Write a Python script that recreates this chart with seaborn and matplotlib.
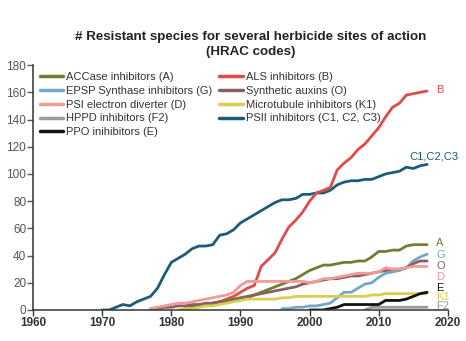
import matplotlib
matplotlib.use("Agg")
import matplotlib.pyplot as plt
import seaborn as sns
import pandas as pd
from matplotlib.lines import Line2D

# ---------------- data ----------------
years_A = list(range(1982, 2018))
accase_A = [1, 2, 3, 4, 5, 6, 7, 8, 9, 10, 11, 13, 15, 17, 19, 21, 23, 26, 29, 31,
            33, 33, 34, 35, 35, 36, 36, 39, 43, 43, 44, 44, 47, 48, 48, 48]

years_B = list(range(1982, 2018))
als_B = [1, 2, 3, 4, 5, 6, 8, 10, 13, 16, 18, 32, 37, 42, 52, 61, 66, 72, 80, 86,
         88, 90, 103, 108, 112, 118, 122, 128, 134, 142, 149, 152, 158, 159, 160, 161]

years_G = list(range(1996, 2018))
epsp_G = [1, 1, 2, 2, 3, 3, 4, 5, 9, 13, 13, 16, 19, 20, 24, 27, 28, 29, 31, 36, 39, 41]

years_O = list(range(1977, 2018))
auxin_O = [1, 1, 2, 2, 3, 3, 4, 4, 5, 5, 6, 6, 7, 8, 9, 11, 12, 13, 14, 15, 16,
           17, 19, 20, 21, 22, 23, 23, 24, 25, 25, 26, 27, 28, 29, 30, 30, 31, 34, 36, 36]

years_D = list(range(1977, 2018))
psi_D = [1, 2, 3, 4, 5, 5, 6, 7, 8, 9, 10, 11, 13, 18, 21, 21, 21, 21, 21, 21, 21,
         21, 21, 20, 21, 23, 23, 24, 25, 26, 27, 27, 27, 28, 31, 30, 30, 31, 32, 32, 32]

years_K1 = list(range(1981, 2018))
micro_K1 = [0, 1, 1, 2, 3, 3, 4, 5, 6, 7, 8, 8, 8, 8, 8, 9, 9, 10, 10, 10, 10,
            10, 10, 10, 10, 10, 10, 10, 11, 11, 12, 12, 12, 12, 12, 12, 12]

years_F2 = list(range(2008, 2018))
hppd_F2 = [0, 2, 2, 2, 2, 2, 2, 2, 2, 2]

years_C = list(range(1970, 2018))
psii_C = [0, 0, 2, 4, 3, 6, 8, 10, 16, 26, 35, 38, 41, 45, 47, 47, 48, 55, 56, 59,
          64, 67, 70, 73, 76, 79, 81, 81, 82, 85, 85, 86, 86, 88, 92, 94, 95, 95,
          96, 96, 98, 100, 101, 102, 105, 104, 106, 107]

years_E = list(range(2000, 2018))
ppo_E = [0, 0, 0, 1, 2, 4, 4, 4, 4, 4, 4, 7, 7, 7, 8, 10, 12, 13]

series_names = ["ACCase inhibitors (A)", "EPSP Synthase inhibitors (G)",
                "PSI electron diverter (D)", "HPPD inhibitors (F2)",
                "PPO inihibitors (E)", "ALS inhibitors (B)",
                "Synthetic auxins (O)", "Microtubule inhibitors (K1)",
                "PSII inhibitors (C1, C2, C3)"]
end_labels = ["A", "G", "D", "F2", "E", "B", "O", "K1", "C1,C2,C3"]

series = [(years_A, accase_A), (years_G, epsp_G), (years_D, psi_D),
          (years_F2, hppd_F2), (years_E, ppo_E), (years_B, als_B),
          (years_O, auxin_O), (years_K1, micro_K1), (years_C, psii_C)]

# ---------------- styles ----------------
colors = ["#6e7f35", "#72a7cc", "#f29a96", "#9a9a9a", "#111111",
          "#e24a4a", "#8a5e62", "#d6d04e", "#1b5d78"]
# label offsets (points) relative to the last data point
label_offsets = [(6.5, 1.4), (6.5, -0.4), (6.5, -7.5), (6.5, 0.7), (6.5, 3.0),
                 (6.5, 1.0), (6.5, -3.6), (6.5, -2.6), (-13, 5.5)]

rows = []
for name, (xs, ys) in zip(series_names, series):
    for x, y in zip(xs, ys):
        rows.append({"Year": x, "Count": y, "Site": name})
df = pd.DataFrame(rows)

sns.set_theme(style="white")
plt.rcParams['font.family'] = ['Liberation Sans', 'DejaVu Sans']

fig = plt.figure(figsize=(4.66, 3.41), dpi=100)
ax = fig.add_axes([0.071, 0.091, 0.890, 0.718])

draw_order = [8, 5, 0, 1, 6, 2, 7, 3, 4]
palette = dict(zip(series_names, colors))
sns.lineplot(data=df, x="Year", y="Count", hue="Site",
             hue_order=[series_names[i] for i in draw_order],
             palette=palette, linewidth=2.0, ax=ax, legend=False)

ax.set_xlim(1960, 2020)
ax.set_ylim(0, 180)
ax.set_xticks(range(1960, 2021, 10))
ax.set_yticks(range(0, 181, 20))
ax.set_xlabel("")
ax.set_ylabel("")
for lab in ax.get_xticklabels():
    lab.set_fontweight("bold")
ax.tick_params(axis="x", labelsize=8.5, colors="#333333", length=4, width=1,
               direction="out", bottom=True, pad=1)
ax.tick_params(axis="y", labelsize=8.5, colors="#555555", length=4, width=1,
               direction="out", left=True, pad=1)
for s in ["top", "right"]:
    ax.spines[s].set_visible(False)
for s in ["left", "bottom"]:
    ax.spines[s].set_color("#333333")
    ax.spines[s].set_linewidth(1.1)

# legend
handles = [Line2D([0], [0], color=c, lw=2.5) for c in colors]
leg = ax.legend(handles, series_names, ncol=2, frameon=False,
                loc="upper left", bbox_to_anchor=(0.0, 1.0),
                fontsize=8, handlelength=2.1, handletextpad=0.3,
                columnspacing=0.6, labelspacing=0.35, borderaxespad=0.2)
for t in leg.get_texts():
    t.set_color("#333333")

# end labels
for (xs, ys), lab, c, off in zip(series, end_labels, colors, label_offsets):
    ax.annotate(lab, xy=(xs[-1], ys[-1]), xytext=off, textcoords="offset points",
                color=c, fontsize=8, va="center", ha="left", annotation_clip=False)

fig.suptitle("# Resistant species for several herbicide sites of action\n(HRAC codes)",
             x=0.539, y=0.908, fontsize=9.6, fontweight="bold", color="#222222",
             linespacing=1.25)

fig.savefig("out.png", dpi=100)
